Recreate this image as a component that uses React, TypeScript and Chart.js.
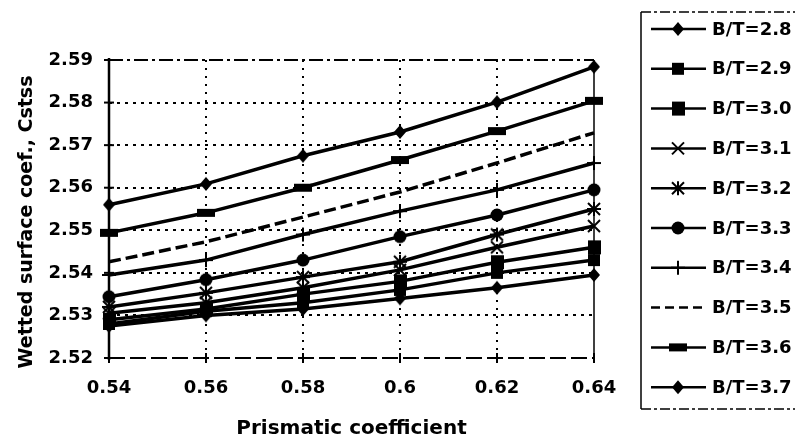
import React, { useEffect, useRef } from 'react';
import { Chart, registerables } from 'chart.js';

Chart.register(...registerables);

// ---------- data ----------
const categories = ['0.54', '0.56', '0.58', '0.6', '0.62', '0.64'];
const seriesLabels = ['B/T=2.8', 'B/T=2.9', 'B/T=3.0', 'B/T=3.1', 'B/T=3.2', 'B/T=3.3', 'B/T=3.4', 'B/T=3.5', 'B/T=3.6', 'B/T=3.7'];
const bt28 = [2.5275, 2.53, 2.5315, 2.534, 2.5365, 2.5395];
const bt29 = [2.528, 2.531, 2.533, 2.536, 2.54, 2.543];
const bt30 = [2.529, 2.5315, 2.535, 2.538, 2.5425, 2.546];
const bt31 = [2.5305, 2.533, 2.5365, 2.5407, 2.546, 2.551];
const bt32 = [2.532, 2.5353, 2.539, 2.5426, 2.549, 2.555];
const bt33 = [2.5344, 2.5384, 2.543, 2.5485, 2.5536, 2.5595];
const bt34 = [2.5395, 2.543, 2.549, 2.5545, 2.5595, 2.5658];
const bt35 = [2.5426, 2.5473, 2.5531, 2.559, 2.5658, 2.5729];
const bt36 = [2.5494, 2.5541, 2.56, 2.5665, 2.5733, 2.5804];
const bt37 = [2.556, 2.5609, 2.5675, 2.5731, 2.5801, 2.5884];
const yMin = 2.52;
const yMax = 2.59;
const yStep = 0.01;
const xTitle = 'Prismatic coefficient';
const yTitle = 'Wetted surface coef., Cstss';

const seriesValues = [bt28, bt29, bt30, bt31, bt32, bt33, bt34, bt35, bt36, bt37];
const markerKinds = ['diamond', 'squareS', 'squareL', 'x', 'star', 'circle', 'plus', 'none', 'bar', 'diamond'];

const FONT = '"DejaVu Sans", "Liberation Sans", Arial, sans-serif';

function drawMarker(ctx: CanvasRenderingContext2D, kind: string, x: number, y: number) {
  ctx.save();
  ctx.fillStyle = '#000';
  ctx.strokeStyle = '#000';
  ctx.setLineDash([]);
  ctx.lineWidth = 2;
  ctx.beginPath();
  switch (kind) {
    case 'diamond':
      ctx.moveTo(x, y - 7); ctx.lineTo(x + 6, y); ctx.lineTo(x, y + 7); ctx.lineTo(x - 6, y); ctx.closePath(); ctx.fill();
      break;
    case 'squareS':
      ctx.fillRect(x - 6, y - 6, 12, 12);
      break;
    case 'squareL':
      ctx.fillRect(x - 6, y - 7, 13, 14);
      break;
    case 'x':
      ctx.moveTo(x - 6, y - 6); ctx.lineTo(x + 6, y + 6); ctx.moveTo(x + 6, y - 6); ctx.lineTo(x - 6, y + 6); ctx.stroke();
      break;
    case 'star':
      ctx.moveTo(x - 6, y - 6); ctx.lineTo(x + 6, y + 6); ctx.moveTo(x + 6, y - 6); ctx.lineTo(x - 6, y + 6);
      ctx.moveTo(x, y - 7); ctx.lineTo(x, y + 7); ctx.moveTo(x - 7, y); ctx.lineTo(x + 7, y); ctx.stroke();
      break;
    case 'circle':
      ctx.arc(x, y, 6.5, 0, Math.PI * 2); ctx.fill();
      break;
    case 'plus':
      ctx.moveTo(x, y - 7); ctx.lineTo(x, y + 7); ctx.moveTo(x - 7, y); ctx.lineTo(x + 7, y); ctx.stroke();
      break;
    case 'bar':
      ctx.fillRect(x - 9, y - 4, 18, 8);
      break;
    default:
      break;
  }
  ctx.restore();
}

function makeCanvasMarker(kind: string): HTMLCanvasElement {
  const c = document.createElement('canvas');
  c.width = 20;
  c.height = 18;
  const g = c.getContext('2d') as CanvasRenderingContext2D;
  drawMarker(g, kind, 10, 9);
  return c;
}

const framePlugin = {
  id: 'framePlugin',
  afterDraw(chart: any) {
    const { ctx, chartArea } = chart;
    const { left, right, top, bottom } = chartArea;
    const line = (x1: number, y1: number, x2: number, y2: number) => {
      ctx.beginPath(); ctx.moveTo(x1, y1); ctx.lineTo(x2, y2); ctx.stroke();
    };
    ctx.save();
    ctx.strokeStyle = '#000';
    ctx.lineWidth = 2;
    ctx.setLineDash([14, 4, 3, 4]);
    line(left, top, right, top);
    ctx.setLineDash([16, 5]);
    line(left, bottom, right, bottom);
    ctx.setLineDash([]);
    ctx.lineWidth = 1.5;
    line(right, top, right, bottom);
    ctx.lineWidth = 2.5;
    line(left, top - 2, left, bottom + 2);
    ctx.lineWidth = 2;
    const ys = chart.scales.y;
    ys.ticks.forEach((t: any) => {
      const py = ys.getPixelForValue(t.value);
      line(left - 5, py, left + 5, py);
    });
    const xs = chart.scales.x;
    categories.forEach((_c, i) => {
      const px = xs.getPixelForValue(i);
      line(px, bottom - 5, px, bottom + 5);
    });

    ctx.fillStyle = '#000';
    ctx.font = `bold 20px ${FONT}`;
    ctx.textAlign = 'center';
    ctx.textBaseline = 'middle';
    ctx.fillText(xTitle, (left + right) / 2, 429);
    ctx.save();
    ctx.translate(27, 222);
    ctx.rotate(-Math.PI / 2);
    ctx.font = `bold 19px ${FONT}`;
    ctx.fillText(yTitle, 0, 0);
    ctx.restore();

    const bx = 641, by = 12, bb = 409;
    ctx.lineWidth = 1.5;
    ctx.setLineDash([]);
    line(bx, by, bx, bb);
    ctx.setLineDash([10, 3, 3, 3]);
    line(bx, by, 800, by);
    line(bx, bb, 800, bb);
    ctx.setLineDash([]);

    seriesLabels.forEach((lab, i) => {
      const cy = 29 + i * 39.8;
      ctx.save();
      ctx.lineWidth = 2.5;
      ctx.setLineDash(markerKinds[i] === 'none' ? [9, 5] : []);
      line(651, cy, 706, cy);
      ctx.restore();
      drawMarker(ctx, markerKinds[i], 678, cy);
      ctx.fillStyle = '#000';
      ctx.font = `bold 18px ${FONT}`;
      ctx.textAlign = 'left';
      ctx.textBaseline = 'middle';
      ctx.fillText(lab, 712, cy + 1);
    });
    ctx.restore();
  },
};

export default function App() {
  const ref = useRef<HTMLCanvasElement | null>(null);

  useEffect(() => {
    if (!ref.current) return;
    const markers = markerKinds.map((k) => (k === 'none' ? 'circle' : makeCanvasMarker(k)));
    const datasets = seriesLabels.map((lab, i) => ({
      label: lab,
      data: seriesValues[i],
      borderColor: '#000',
      backgroundColor: '#000',
      borderWidth: 3.5,
      borderDash: markerKinds[i] === 'none' ? [12, 5] : [],
      pointStyle: markers[i] as any,
      pointRadius: markerKinds[i] === 'none' ? 0 : 7,
      pointHoverRadius: markerKinds[i] === 'none' ? 0 : 7,
      tension: 0,
    }));

    const chart = new Chart(ref.current, {
      type: 'line',
      data: { labels: categories, datasets },
      options: {
        responsive: false,
        animation: false,
        layout: { padding: { left: 0, top: 60, right: 201, bottom: 0 } },
        plugins: {
          legend: { display: false },
          tooltip: { enabled: false },
          title: { display: false },
        },
        scales: {
          x: {
            type: 'category',
            offset: false,
            grid: {
              drawTicks: false,
              lineWidth: 2,
              color: (c: any) => (c.index === 0 || c.index === categories.length - 1 ? 'rgba(0,0,0,0)' : '#000'),
            },
            border: { display: false, dash: [2, 6] },
            ticks: {
              color: '#000',
              font: { family: FONT, size: 18, weight: 'bold' },
              padding: 20,
              maxRotation: 0,
              autoSkip: false,
            },
            afterFit: (s: any) => { s.height = 87; },
          },
          y: {
            min: yMin,
            max: yMax,
            grid: {
              drawTicks: false,
              lineWidth: 2,
              color: (c: any) => (c.index === 0 || c.index === 7 ? 'rgba(0,0,0,0)' : '#000'),
            },
            border: { display: false, dash: [3, 5] },
            ticks: {
              stepSize: yStep,
              color: '#000',
              font: { family: FONT, size: 18, weight: 'bold' },
              padding: 16,
              callback: (v: any) => Number(v).toFixed(2),
            },
            afterFit: (s: any) => { s.width = 109; },
          },
        },
      },
      plugins: [framePlugin],
    });
    return () => chart.destroy();
  }, []);

  return (
    <div style={{ position: 'absolute', left: 0, top: 0, width: 795, height: 445, background: '#fff' }}>
      <canvas ref={ref} width={795} height={445} style={{ width: 795, height: 445, display: 'block' }} />
    </div>
  );
}
